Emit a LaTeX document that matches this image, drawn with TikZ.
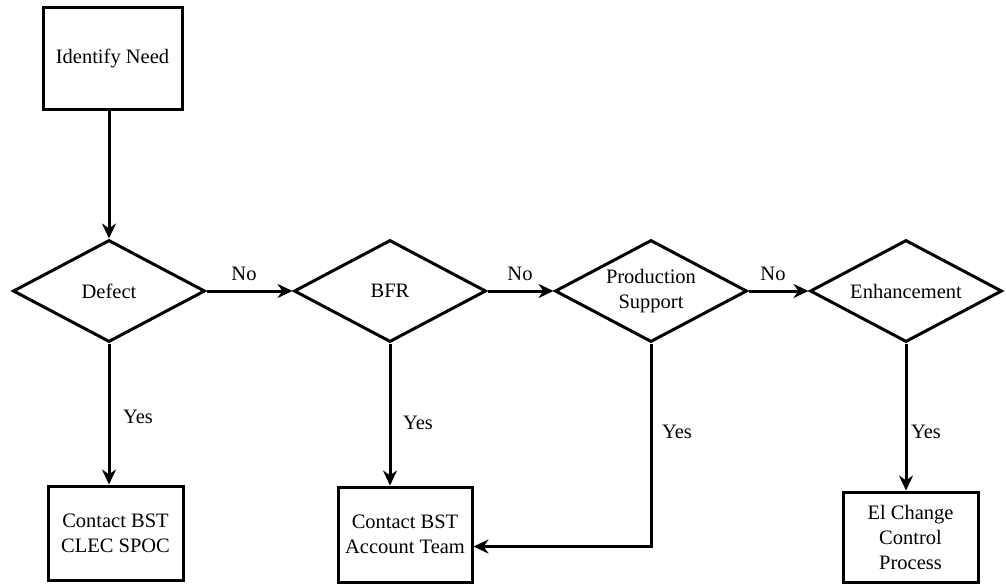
\documentclass[tikz,border=0pt]{standalone}
\usepackage{fontspec}
\setmainfont{Liberation Serif}
\usetikzlibrary{shapes.geometric,arrows.meta}
\tikzset{
  box/.style={draw, line width=3pt, rectangle, inner sep=0pt, align=center,
    font=\fontsize{20.5}{25}\selectfont},
  decision/.style={draw, line width=3pt, diamond, aspect=1.88, inner sep=0pt,
    minimum width=192pt, minimum height=102pt, align=center,
    font=\fontsize{20.5}{25}\selectfont},
  arr/.style={line width=3pt, -{Stealth[length=15pt,width=14pt]}},
  lbl/.style={inner sep=0pt, font=\fontsize{20.5}{24}\selectfont}
}
\begin{document}
\begin{tikzpicture}[x=1pt,y=-1pt]
\useasboundingbox (0,0) rectangle (1006,586);
% boxes
\node[box, minimum width=139pt, minimum height=101pt] (need) at (112.5,58.5) {Identify Need};
\node[box, minimum width=135pt, minimum height=94pt] (clec) at (115.5,533) {Contact BST\\CLEC SPOC};
\node[box, minimum width=134pt, minimum height=95pt] (acct) at (405,534.5) {Contact BST\\Account Team};
\node[box, minimum width=135pt, minimum height=90pt] (elc) at (910.5,537) {El Change\\Control\\Process};
% decisions
\node[decision] (defect) at (109,291) {Defect};
\node[decision] (bfr) at (390,291) {BFR};
\node[decision] (prod) at (651,291) {Production\\Support};
\node[decision] (enh) at (906,291) {Enhancement};
% connectors
\draw[arr] (need.south -| defect.north) -- (defect.north);
\draw[arr] (defect.east) -- (bfr.west);
\draw[arr] (bfr.east) -- (prod.west);
\draw[arr] (prod.east) -- (enh.west);
\draw[arr] (defect.south) -- (defect.south |- clec.north);
\draw[arr] (bfr.south) -- (bfr.south |- acct.north);
\draw[arr] (enh.south) -- (enh.south |- elc.north);
\coordinate (acctin) at ([yshift=-12pt]acct.east);
\draw[arr] (prod.south) |- (acctin);
% labels
\node[lbl] (no1) at (244,274) {No};
\node[lbl] (no2) at (520,274) {No};
\node[lbl] (no3) at (773,274) {No};
\node[lbl] (yes1) at (138,417) {Yes};
\node[lbl] (yes2) at (418,423) {Yes};
\node[lbl] (yes3) at (677,432) {Yes};
\node[lbl] (yes4) at (926,432) {Yes};
\end{tikzpicture}
\end{document}
